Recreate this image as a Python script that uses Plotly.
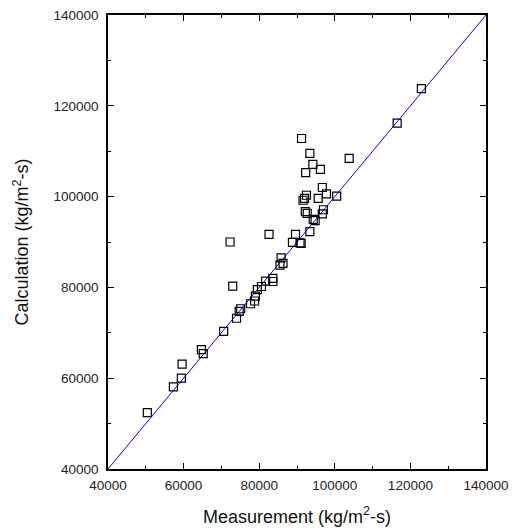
import plotly.graph_objects as go

# Measured vs. calculated mass flux (kg/m^2-s)
measurement = [
    50400, 57300, 59400, 59600, 64700, 65200, 70600, 72300, 73000, 74000,
    74700, 75100, 77700, 78800, 79000, 79500, 80600, 81700, 83600, 83600,
    82600, 85500, 85800, 86300, 88800, 89600, 90800, 91100, 91200, 91600,
    92000, 92300, 92500, 92200, 92700, 93400, 93400, 94200, 94300, 94800,
    95600, 96200, 96700, 96700, 97000, 97800, 100500, 103800, 116500, 122900,
]
calculation = [
    52400, 58100, 60000, 63100, 66300, 65400, 70300, 90000, 80300, 73200,
    74700, 75300, 76400, 77000, 78100, 79500, 80200, 81400, 82000, 81300,
    91700, 84900, 86500, 85300, 89900, 91700, 89800, 89700, 112800, 99200,
    99600, 105300, 100300, 96700, 96300, 92300, 109500, 107100, 95000, 94700,
    99600, 106000, 102000, 96200, 97100, 100600, 100100, 108400, 116200, 123800,
]
diag = [40000, 140000]
ticks = [40000, 60000, 80000, 100000, 120000, 140000]

FONT = "Liberation Sans, Arial"

fig = go.Figure()
fig.add_trace(go.Scatter(
    x=diag, y=diag, mode="lines",
    line=dict(color="#0000ff", width=1), hoverinfo="skip",
))
fig.add_trace(go.Scatter(
    x=measurement, y=calculation, mode="markers",
    marker=dict(symbol="square-open", size=8, color="black",
                line=dict(width=1.2, color="black")),
))

axis_common = dict(
    range=[40000, 140000], tickvals=ticks, ticktext=[str(t) for t in ticks],
    showgrid=False, zeroline=False, showline=True, linecolor="black",
    linewidth=1.5, mirror="ticks", ticks="inside", ticklen=6, tickwidth=1,
    tickcolor="black", automargin=False,
    minor=dict(ticks="inside", ticklen=3, tickwidth=1, tickcolor="black",
               dtick=10000, showgrid=False),
    tickfont=dict(family=FONT, size=13.5, color="#222"),
)

fig.update_layout(
    width=518, height=531,
    margin=dict(l=108, r=32, t=15, b=62),
    paper_bgcolor="white", plot_bgcolor="white",
    showlegend=False,
    xaxis=dict(**axis_common, ticklabelstandoff=3,
               title=dict(text="Measurement (kg/m<sup>2</sup>-s)", standoff=18,
                          font=dict(family=FONT, size=18, color="#111"))),
    yaxis=dict(**axis_common, ticklabelstandoff=5,
               title=dict(text="Calculation (kg/m<sup>2</sup>-s)", standoff=20,
                          font=dict(family=FONT, size=18, color="#111"))),
)

fig.write_html("out.html")
